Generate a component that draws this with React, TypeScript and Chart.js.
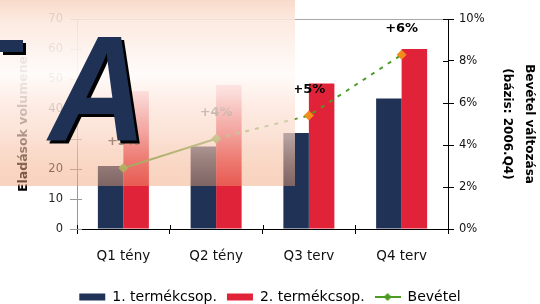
import { useEffect, useRef } from 'react';
import { Chart, registerables } from 'chart.js';

Chart.register(...registerables);

const categories = ['Q1 tény', 'Q2 tény', 'Q3 terv', 'Q4 terv'];
const group1Values = [21, 27.5, 32, 43.5];
const group2Values = [46, 48, 48.5, 60];
const revenueChange = [2.9, 4.3, 5.4, 8.3];
const revenueLabels = ['+3%', '+4%', '+5%', '+6%'];
const seriesNames = ['1. termékcsop.', '2. termékcsop.', 'Bevétel'];
const leftAxisTitle = 'Eladások volumene';
const rightAxisTitle = ['Bevétel változása', '(bázis: 2006.Q4)'];

const NAVY = '#203356';
const RED = '#e12339';
const GREEN = '#4c9c24';
const GREEN_PT = '#6aa52b';
const ORANGE = '#f28c1c';
const FONT = '"DejaVu Sans", Verdana, sans-serif';

function makeLineLegendIcon(): HTMLCanvasElement {
  const c = document.createElement('canvas');
  c.width = 26;
  c.height = 10;
  const g = c.getContext('2d')!;
  g.strokeStyle = GREEN;
  g.lineWidth = 2;
  g.beginPath();
  g.moveTo(0, 5);
  g.lineTo(26, 5);
  g.stroke();
  g.fillStyle = GREEN;
  g.beginPath();
  g.moveTo(13, 1);
  g.lineTo(17, 5);
  g.lineTo(13, 9);
  g.lineTo(9, 5);
  g.closePath();
  g.fill();
  return c;
}

const innerTicks = {
  id: 'innerTicks',
  afterDraw(chart: any) {
    const { ctx, chartArea, scales } = chart;
    ctx.save();
    ctx.lineWidth = 1;
    ctx.strokeStyle = '#999';
    scales.y.ticks.forEach((t: any) => {
      const y = Math.round(scales.y.getPixelForValue(t.value)) + 0.5;
      ctx.beginPath();
      ctx.moveTo(chartArea.left, y);
      ctx.lineTo(chartArea.left + 5, y);
      ctx.stroke();
    });
    ctx.strokeStyle = '#000';
    scales.y1.ticks.forEach((t: any) => {
      const y = Math.round(scales.y1.getPixelForValue(t.value)) + 0.5;
      ctx.beginPath();
      ctx.moveTo(chartArea.right - 5, y);
      ctx.lineTo(chartArea.right, y);
      ctx.stroke();
    });
    const xs = scales.x;
    for (let i = 0; i <= categories.length; i++) {
      let px: number;
      if (i === 0) px = chartArea.left;
      else if (i === categories.length) px = chartArea.right;
      else px = (xs.getPixelForValue(i - 1) + xs.getPixelForValue(i)) / 2;
      px = Math.round(px) + 0.5;
      ctx.beginPath();
      ctx.moveTo(px, chartArea.bottom - 4);
      ctx.lineTo(px, chartArea.bottom);
      ctx.stroke();
    }
    ctx.restore();
  },
};

const pointLabels = {
  id: 'pointLabels',
  afterDatasetsDraw(chart: any) {
    const meta = chart.getDatasetMeta(2);
    const { ctx } = chart;
    ctx.save();
    ctx.font = `bold 13px ${FONT}`;
    ctx.fillStyle = '#000';
    ctx.textAlign = 'center';
    ctx.textBaseline = 'middle';
    meta.data.forEach((pt: any, i: number) => {
      ctx.fillText(revenueLabels[i], pt.x, pt.y - 26);
    });
    ctx.restore();
  },
};

const decoration = {
  id: 'decoration',
  afterDraw(chart: any) {
    const { ctx } = chart;
    ctx.save();
    const w = 295;
    const h = 186;
    const grad = ctx.createLinearGradient(0, 0, 0, h);
    grad.addColorStop(0, 'rgba(248,214,196,0.9)');
    grad.addColorStop(0.12, 'rgba(252,232,222,0.88)');
    grad.addColorStop(0.4, 'rgba(255,251,249,0.94)');
    grad.addColorStop(0.5, 'rgba(254,240,234,0.9)');
    grad.addColorStop(0.72, 'rgba(250,215,198,0.7)');
    grad.addColorStop(1, 'rgba(240,160,115,0.45)');
    ctx.fillStyle = grad;
    ctx.fillRect(0, 0, w, h);

    ctx.textBaseline = 'alphabetic';
    ctx.textAlign = 'left';
    ctx.font = `italic bold 150px "Liberation Sans", Arial, sans-serif`;
    const drawA = (dx: number, dy: number, color: string) => {
      ctx.save();
      ctx.translate(49 + dx, 140 + dy);
      ctx.scale(0.9, 1);
      ctx.fillStyle = color;
      ctx.fillText('A', 0, 0);
      ctx.restore();
      ctx.fillStyle = color;
      ctx.fillRect(0 + dx, 40 + dy, 23, 12);
    };
    drawA(3, 3, '#000');
    drawA(0, 0, '#1f3256');
    ctx.restore();
  },
};

export default function App() {
  const ref = useRef<HTMLCanvasElement>(null);

  useEffect(() => {
    const canvas = ref.current!;
    const lineIcon = makeLineLegendIcon();
    const chart = new Chart(canvas, {
      type: 'bar',
      data: {
        labels: categories,
        datasets: [
          {
            type: 'bar',
            label: seriesNames[0],
            data: group1Values,
            backgroundColor: NAVY,
            yAxisID: 'y',
            order: 2,
          },
          {
            type: 'bar',
            label: seriesNames[1],
            data: group2Values,
            backgroundColor: RED,
            yAxisID: 'y',
            order: 2,
          },
          {
            type: 'line',
            label: seriesNames[2],
            data: revenueChange,
            yAxisID: 'y1',
            borderColor: GREEN,
            borderWidth: 2,
            pointStyle: 'rectRot',
            pointRadius: 5,
            pointBorderWidth: 0,
            pointBackgroundColor: [GREEN_PT, GREEN_PT, ORANGE, ORANGE],
            pointBorderColor: [GREEN_PT, GREEN_PT, ORANGE, ORANGE],
            segment: {
              borderDash: (c: any) => (c.p0DataIndex >= 1 ? [4, 6] : undefined),
            },
            order: 1,
          } as any,
        ],
      },
      options: {
        animation: false,
        responsive: false,
        maintainAspectRatio: false,
        layout: { padding: { top: 19, bottom: -10, left: 0, right: 0 } },
        datasets: {
          bar: { categoryPercentage: 0.55, barPercentage: 1.0 },
        },
        plugins: {
          tooltip: { enabled: false },
          legend: {
            position: 'bottom',
            labels: {
              usePointStyle: true,
              pointStyleWidth: 26,
              boxWidth: 26,
              boxHeight: 7,
              padding: 10,
              color: '#111',
              font: { family: FONT, size: 14 },
              generateLabels: (ch: any) =>
                ch.data.datasets.map((ds: any, i: number) => ({
                  text: ds.label,
                  fillStyle: i === 2 ? GREEN : ds.backgroundColor,
                  strokeStyle: i === 2 ? GREEN : ds.backgroundColor,
                  lineWidth: 0,
                  pointStyle: i === 2 ? lineIcon : 'rect',
                  hidden: false,
                  datasetIndex: i,
                })),
            },
          },
        },
        scales: {
          x: {
            offset: true,
            grid: {
              offset: true,
              drawOnChartArea: false,
              color: '#000',
              tickLength: 5,
            },
            border: { color: '#000' },
            ticks: {
              color: '#111',
              padding: 14,
              font: { family: FONT, size: 13.5 },
            },
            afterFit: (s: any) => {
              s.height = 51;
            },
          },
          y: {
            position: 'left',
            min: 0,
            max: 70,
            ticks: {
              stepSize: 10,
              color: '#222',
              padding: 7,
              font: { family: FONT, size: 11.5 },
            },
            grid: {
              color: (c: any) => (c.tick && c.tick.value === 70 ? '#a8a8a8' : 'rgba(0,0,0,0)'),
              tickColor: '#999',
              tickLength: 7,
            },
            border: { color: '#999' },
            title: {
              display: true,
              text: leftAxisTitle,
              color: '#000',
              font: { family: FONT, size: 12.5, weight: 'bold' },
              padding: { top: 16, bottom: 0 },
            },
            afterFit: (s: any) => {
              s.width = 77;
            },
          },
          y1: {
            position: 'right',
            min: 0,
            max: 10,
            ticks: {
              stepSize: 2,
              color: '#111',
              padding: 5,
              font: { family: FONT, size: 11.5 },
              callback: (v: any) => `${v}%`,
            },
            grid: {
              drawOnChartArea: false,
              tickColor: '#000',
              tickLength: 6,
            },
            border: { color: '#000' },
            title: {
              display: true,
              text: rightAxisTitle,
              color: '#000',
              font: { family: FONT, size: 12, weight: 'bold', lineHeight: 22 / 12 },
              padding: { top: 0, bottom: 0 },
            },
            afterFit: (s: any) => {
              s.width = 92;
            },
          },
        },
      } as any,
      plugins: [innerTicks, pointLabels, decoration],
    });
    return () => chart.destroy();
  }, []);

  return (
    <div style={{ position: 'fixed', left: 0, top: 0, width: 540, height: 304, background: '#fff' }}>
      <canvas ref={ref} width={540} height={304} style={{ display: 'block' }} />
    </div>
  );
}
